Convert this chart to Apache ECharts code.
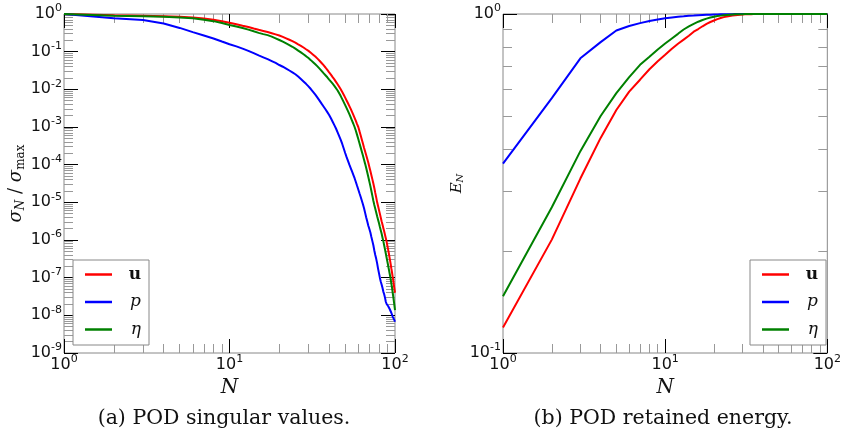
<!DOCTYPE html>
<html>
<head>
<meta charset="utf-8">
<script src="https://cdn.jsdelivr.net/npm/echarts@6/dist/echarts.min.js"></script>
<style>
html, body { margin: 0; padding: 0; background: #fff; }
#chart { width: 844px; height: 437px; }
</style>
</head>
<body>
<div id="chart"></div>
<script>
"use strict";
// number of retained modes
const modes = [
    1, 2, 3, 4, 5, 6, 7, 8, 9, 10, 11, 12, 13, 14, 15, 16, 17, 18, 19, 20,
    21, 22, 23, 24, 25, 26, 27, 28, 29, 30, 31, 32, 33, 34, 35, 36, 37, 38, 39, 40,
    41, 42, 43, 44, 45, 46, 47, 48, 49, 50, 51, 52, 53, 54, 55, 56, 57, 58, 59, 60,
    61, 62, 63, 64, 65, 66, 67, 68, 69, 70, 71, 72, 73, 74, 75, 76, 77, 78, 79, 80,
    81, 82, 83, 84, 85, 86, 87, 88, 89, 90, 91, 92, 93, 94, 95, 96, 97, 98, 99, 100
];
// (a) sigma_N / sigma_max
const sigmaU = [
    1, 0.933, 0.902, 0.877, 0.851, 0.805, 0.759, 0.700, 0.646, 0.589,
    0.537, 0.490, 0.452, 0.412, 0.380, 0.355, 0.331, 0.309, 0.288, 0.269,
    0.247, 0.226, 0.207, 0.190, 0.174, 0.157, 0.143, 0.129, 0.116, 0.105,
    0.0933, 0.0832, 0.0741, 0.0653, 0.0575, 0.0501, 0.0437, 0.0380, 0.0327, 0.0282,
    0.0245, 0.0211, 0.0184, 0.0158, 0.0136, 0.0117, 0.0100, 8.51e-3, 7.16e-3, 6.03e-3,
    5.07e-3, 4.27e-3, 3.59e-3, 3.02e-3, 2.51e-3, 2.09e-3, 1.74e-3, 1.45e-3, 1.20e-3, 1.00e-3,
    7.76e-4, 6.03e-4, 4.68e-4, 3.63e-4, 2.82e-4, 2.24e-4, 1.78e-4, 1.41e-4, 1.12e-4, 8.71e-5,
    6.76e-5, 5.25e-5, 4.07e-5, 3.16e-5, 2.40e-5, 1.78e-5, 1.35e-5, 1.00e-5, 7.94e-6, 6.31e-6,
    5.01e-6, 3.98e-6, 3.16e-6, 2.57e-6, 2.09e-6, 1.70e-6, 1.38e-6, 1.12e-6, 8.91e-7, 6.92e-7,
    5.37e-7, 4.17e-7, 3.16e-7, 2.40e-7, 1.78e-7, 1.35e-7, 1.00e-7, 7.41e-8, 5.37e-8, 3.98e-8
];
const sigmaP = [
    1, 0.776, 0.692, 0.562, 0.427, 0.331, 0.269, 0.224, 0.186, 0.158,
    0.138, 0.120, 0.105, 0.0912, 0.0794, 0.0708, 0.0631, 0.0562, 0.0501, 0.0442,
    0.0398, 0.0355, 0.0316, 0.0282, 0.0251, 0.0219, 0.0188, 0.0162, 0.0140, 0.0120,
    0.0102, 8.57e-3, 7.24e-3, 6.03e-3, 5.01e-3, 4.17e-3, 3.51e-3, 2.95e-3, 2.48e-3, 2.09e-3,
    1.70e-3, 1.38e-3, 1.12e-3, 9.12e-4, 7.24e-4, 5.75e-4, 4.57e-4, 3.55e-4, 2.69e-4, 2.04e-4,
    1.58e-4, 1.26e-4, 1.00e-4, 8.13e-5, 6.61e-5, 5.37e-5, 4.37e-5, 3.47e-5, 2.75e-5, 2.19e-5,
    1.74e-5, 1.41e-5, 1.12e-5, 8.91e-6, 6.92e-6, 5.25e-6, 3.98e-6, 3.09e-6, 2.40e-6, 1.95e-6,
    1.58e-6, 1.20e-6, 9.33e-7, 7.24e-7, 5.25e-7, 3.98e-7, 3.16e-7, 2.40e-7, 1.74e-7, 1.32e-7,
    1.00e-7, 7.94e-8, 6.61e-8, 5.37e-8, 4.27e-8, 3.63e-8, 2.95e-8, 2.29e-8, 2.00e-8, 1.86e-8,
    1.74e-8, 1.58e-8, 1.45e-8, 1.32e-8, 1.17e-8, 1.05e-8, 9.12e-9, 8.32e-9, 7.59e-9, 6.76e-9
];
const sigmaEta = [
    1, 0.902, 0.871, 0.841, 0.813, 0.767, 0.708, 0.646, 0.575, 0.513,
    0.468, 0.427, 0.385, 0.347, 0.316, 0.292, 0.275, 0.251, 0.226, 0.204,
    0.184, 0.166, 0.150, 0.135, 0.120, 0.107, 0.0955, 0.0851, 0.0759, 0.0676,
    0.0596, 0.0525, 0.0462, 0.0407, 0.0355, 0.0309, 0.0269, 0.0237, 0.0209, 0.0182,
    0.0160, 0.0141, 0.0124, 0.0110, 9.33e-3, 7.85e-3, 6.61e-3, 5.50e-3, 4.57e-3, 3.80e-3,
    3.16e-3, 2.63e-3, 2.19e-3, 1.80e-3, 1.48e-3, 1.22e-3, 1.00e-3, 7.94e-4, 6.17e-4, 4.79e-4,
    3.72e-4, 2.88e-4, 2.24e-4, 1.74e-4, 1.35e-4, 1.05e-4, 8.13e-5, 6.17e-5, 4.68e-5, 3.55e-5,
    2.69e-5, 2.00e-5, 1.48e-5, 1.10e-5, 8.51e-6, 6.76e-6, 5.37e-6, 4.27e-6, 3.47e-6, 2.82e-6,
    2.24e-6, 1.82e-6, 1.48e-6, 1.17e-6, 9.33e-7, 7.24e-7, 5.62e-7, 4.37e-7, 3.39e-7, 2.63e-7,
    2.04e-7, 1.58e-7, 1.23e-7, 9.55e-8, 7.08e-8, 5.25e-8, 3.80e-8, 2.75e-8, 1.95e-8, 1.38e-8
];
// (b) retained energy E_N
const energyU = [
    0.119, 0.216, 0.327, 0.431, 0.521, 0.590, 0.640, 0.687, 0.725, 0.758,
    0.790, 0.817, 0.840, 0.863, 0.887, 0.903, 0.920, 0.935, 0.947, 0.957,
    0.966, 0.973, 0.979, 0.983, 0.987, 0.990, 0.992, 0.994, 0.9955, 0.9966,
    0.9975, 0.9981, 0.9986, 0.9989, 0.9992, 0.9994, 0.9995, 0.9996, 0.9997, 0.9998,
    0.9998, 0.9998, 0.9999, 0.9999, 0.9999, 0.9999, 0.9999, 0.9999, 1, 1,
    1, 1, 1, 1, 1, 1, 1, 1, 1, 1,
    1, 1, 1, 1, 1, 1, 1, 1, 1, 1,
    1, 1, 1, 1, 1, 1, 1, 1, 1, 1,
    1, 1, 1, 1, 1, 1, 1, 1, 1, 1,
    1, 1, 1, 1, 1, 1, 1, 1, 1, 1
];
const energyP = [
    0.362, 0.565, 0.740, 0.826, 0.894, 0.922, 0.940, 0.953, 0.963, 0.971,
    0.977, 0.982, 0.985, 0.988, 0.990, 0.992, 0.9935, 0.9947, 0.9957, 0.9965,
    0.9972, 0.9977, 0.9981, 0.9985, 0.9988, 0.9990, 0.9992, 0.9993, 0.9994, 0.9995,
    0.9996, 0.9997, 0.9997, 0.9998, 0.9998, 0.9998, 0.9999, 0.9999, 0.9999, 0.9999,
    1, 1, 1, 1, 1, 1, 1, 1, 1, 1,
    1, 1, 1, 1, 1, 1, 1, 1, 1, 1,
    1, 1, 1, 1, 1, 1, 1, 1, 1, 1,
    1, 1, 1, 1, 1, 1, 1, 1, 1, 1,
    1, 1, 1, 1, 1, 1, 1, 1, 1, 1,
    1, 1, 1, 1, 1, 1, 1, 1, 1, 1
];
const energyEta = [
    0.147, 0.269, 0.394, 0.500, 0.584, 0.651, 0.708, 0.748, 0.786, 0.818,
    0.847, 0.874, 0.900, 0.919, 0.935, 0.949, 0.960, 0.969, 0.976, 0.982,
    0.986, 0.989, 0.992, 0.994, 0.9955, 0.9966, 0.9975, 0.9981, 0.9986, 0.9989,
    0.9992, 0.9994, 0.9995, 0.9996, 0.9997, 0.9998, 0.9998, 0.9999, 0.9999, 0.9999,
    0.9999, 0.9999, 1, 1, 1, 1, 1, 1, 1, 1,
    1, 1, 1, 1, 1, 1, 1, 1, 1, 1,
    1, 1, 1, 1, 1, 1, 1, 1, 1, 1,
    1, 1, 1, 1, 1, 1, 1, 1, 1, 1,
    1, 1, 1, 1, 1, 1, 1, 1, 1, 1,
    1, 1, 1, 1, 1, 1, 1, 1, 1, 1
];
const seriesNames = ['u', 'p', 'η'];
const seriesColors = ['#ff0000', '#0000ff', '#008000'];
const captions = ['(a) POD singular values.', '(b) POD retained energy.'];

const SANS = 'DejaVu Sans';
const SERIF = 'DejaVu Serif';
const textColor = '#111';

// minor tick positions 2..9 of every decade
function minorTicks(lo, hi) {
    let out = [];
    for (let e = lo; e < hi; e++) {
        for (let m = 2; m <= 9; m++) {
            out.push(+(m * Math.pow(10, e)).toPrecision(6));
        }
    }
    return out;
}

function powerLabel(value) {
    let e = Math.round(Math.log10(value));
    return '{b|10}{s|' + e + '}';
}
const powerRich = {
    b: { fontSize: 16, fontFamily: SANS, color: textColor, lineHeight: 22 },
    s: { fontSize: 11, fontFamily: SANS, color: textColor, lineHeight: 12, verticalAlign: 'top' }
};

const majorTick = { show: true, inside: true, length: 14, lineStyle: { color: '#000', width: 1 } };
function minorTick(values) {
    return { show: true, inside: true, length: 9, customValues: values, lineStyle: { color: '#999', width: 1 } };
}

function makeXAxes(gridIndex) {
    const base = {
        type: 'log', logBase: 10, gridIndex, min: 1, max: 100,
        axisLine: { show: false }, splitLine: { show: false }
    };
    const minors = minorTicks(0, 2);
    return [
        Object.assign({}, base, {
            position: 'bottom', axisTick: majorTick,
            axisLabel: { margin: 1, formatter: powerLabel, rich: powerRich, showMinLabel: true, showMaxLabel: true },
            name: 'N', nameLocation: 'middle', nameGap: 22,
            nameTextStyle: { fontFamily: SERIF, fontStyle: 'italic', fontSize: 20, color: textColor }
        }),
        Object.assign({}, base, { position: 'bottom', axisTick: minorTick(minors), axisLabel: { show: false } }),
        Object.assign({}, base, { position: 'top', axisTick: majorTick, axisLabel: { show: false } }),
        Object.assign({}, base, { position: 'top', axisTick: minorTick(minors), axisLabel: { show: false } })
    ];
}

function makeYAxes(gridIndex, min, lo, name, nameRich, nameGap) {
    const base = {
        type: 'log', logBase: 10, gridIndex, min, max: 1,
        axisLine: { show: false }, splitLine: { show: false }
    };
    const minors = minorTicks(lo, 0);
    return [
        Object.assign({}, base, {
            position: 'left', axisTick: majorTick,
            axisLabel: { margin: 2, formatter: powerLabel, rich: powerRich, showMinLabel: true, showMaxLabel: true },
            name, nameLocation: 'middle', nameRotate: 90, nameGap,
            nameTextStyle: { rich: nameRich }
        }),
        Object.assign({}, base, { position: 'left', axisTick: minorTick(minors), axisLabel: { show: false } }),
        Object.assign({}, base, { position: 'right', axisTick: majorTick, axisLabel: { show: false } }),
        Object.assign({}, base, { position: 'right', axisTick: minorTick(minors), axisLabel: { show: false } })
    ];
}

const sigmaRich = {
    s: { fontFamily: SERIF, fontStyle: 'italic', fontSize: 18, color: textColor },
    n: { fontFamily: SERIF, fontStyle: 'italic', fontSize: 12, color: textColor, padding: [9, 0, 0, 0] },
    sl: { fontFamily: SERIF, fontSize: 18, color: textColor },
    m: { fontFamily: SERIF, fontSize: 12, color: textColor, padding: [9, 0, 0, 0] }
};
const energyRich = {
    e: { fontFamily: SERIF, fontStyle: 'italic', fontSize: 15, color: textColor },
    n: { fontFamily: SERIF, fontStyle: 'italic', fontSize: 10, color: textColor, padding: [7, 0, 0, 0] }
};

const legendRich = {
    u: { fontFamily: SERIF, fontWeight: 'bold', fontSize: 17, color: textColor, width: 24, align: 'right', lineHeight: 16 },
    p: { fontFamily: SERIF, fontStyle: 'italic', fontSize: 17, color: textColor, width: 24, align: 'right', lineHeight: 16 },
    eta: { fontFamily: SERIF, fontStyle: 'italic', fontSize: 17, color: textColor, width: 24, align: 'right', lineHeight: 16 }
};
function makeLegend(left) {
    return {
        left, top: 260, orient: 'vertical', data: seriesNames,
        icon: 'rect', itemWidth: 27, itemHeight: 2.5, itemGap: 10.5,
        padding: [6, 8, 7, 12],
        borderColor: '#888', borderWidth: 1, borderRadius: 0, backgroundColor: '#fff',
        selectedMode: false,
        formatter: name => '{' + (name === 'η' ? 'eta' : name) + '|' + name + '}',
        textStyle: { rich: legendRich }
    };
}

function lineSeries(idx, values, axisIndex) {
    return {
        type: 'line', name: seriesNames[idx],
        data: modes.map((n, i) => [n, values[i]]),
        xAxisIndex: axisIndex, yAxisIndex: axisIndex,
        showSymbol: false, symbol: 'none', silent: true,
        lineStyle: { color: seriesColors[idx], width: 2 },
        itemStyle: { color: seriesColors[idx] }
    };
}

const captionFont = '20.5px "' + SERIF + '"';
const chart = echarts.init(document.getElementById('chart'));
const option = {
    animation: false,
    backgroundColor: '#fff',
    grid: [
        { left: 64, top: 14, width: 331, height: 339, show: true, borderColor: '#888', borderWidth: 1 },
        { left: 503, top: 14, width: 330, height: 339, show: true, borderColor: '#888', borderWidth: 1 }
    ],
    xAxis: makeXAxes(0).concat(makeXAxes(1)),
    yAxis: makeYAxes(0, 1e-9, -9, '{s|σ}{n|N}{sl| / }{s|σ}{m|max}', sigmaRich, 35)
        .concat(makeYAxes(1, 0.1, -1, '{e|E}{n|N}', energyRich, 36)),
    legend: [makeLegend(73), makeLegend(750)],
    graphic: [
        { type: 'text', x: 224, y: 419, style: { text: captions[0], font: captionFont, fill: textColor, align: 'center', verticalAlign: 'middle' } },
        { type: 'text', x: 663, y: 419, style: { text: captions[1], font: captionFont, fill: textColor, align: 'center', verticalAlign: 'middle' } }
    ],
    series: [
        lineSeries(0, sigmaU, 0),
        lineSeries(1, sigmaP, 0),
        lineSeries(2, sigmaEta, 0),
        lineSeries(0, energyU, 4),
        lineSeries(1, energyP, 4),
        lineSeries(2, energyEta, 4)
    ]
};
chart.setOption(option);
</script>
</body>
</html>
